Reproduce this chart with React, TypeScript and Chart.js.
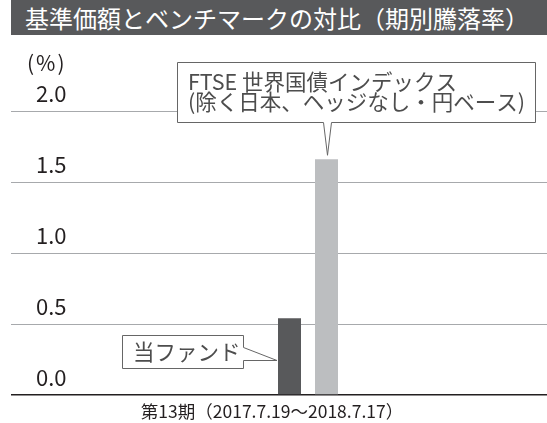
import React, { useEffect, useRef } from 'react';
import { Chart, registerables } from 'chart.js';

Chart.register(...registerables);

const chartTitle = '基準価額とベンチマークの対比（期別騰落率）';
const categories = ['第13期（2017.7.19～2018.7.17）'];
const fundName = '当ファンド';
const benchmarkNameLines = ['FTSE 世界国債インデックス', '(除く日本、ヘッジなし・円ベース)'];
const fundValues = [0.54];
const benchmarkValues = [1.66];
const yUnit = '(%)';
const yMin = 0;
const yMax = 2.0;
const yStep = 0.5;

const FONT = '"Noto Sans CJK JP", "Noto Sans", sans-serif';

const calloutPlugin = {
  id: 'callouts',
  afterDatasetsDraw(chart: any) {
    const ctx = chart.ctx as CanvasRenderingContext2D;
    const fundBar = chart.getDatasetMeta(0).data[0];
    const benchBar = chart.getDatasetMeta(1).data[0];
    ctx.save();
    ctx.lineWidth = 1;
    ctx.strokeStyle = '#666666';

    // unit label
    ctx.font = `21px ${FONT}`;
    ctx.fillStyle = '#231f20';
    ctx.textBaseline = 'middle';
    ctx.textAlign = 'left';
    (ctx as any).letterSpacing = '2px';
    ctx.fillText(yUnit, 27, 63);
    (ctx as any).letterSpacing = '0px';

    // benchmark callout
    if (benchBar) {
      const bx = 177.5, by = 62.5, bw = 358, bh = 60;
      const tx = Math.round(benchBar.x) + 0.5;
      const ty = benchBar.y - 4;
      ctx.beginPath();
      ctx.moveTo(bx, by);
      ctx.lineTo(bx + bw, by);
      ctx.lineTo(bx + bw, by + bh);
      ctx.lineTo(tx + 4, by + bh);
      ctx.lineTo(tx, ty);
      ctx.lineTo(tx - 4, by + bh);
      ctx.lineTo(bx, by + bh);
      ctx.closePath();
      ctx.fillStyle = '#ffffff';
      ctx.fill();
      ctx.stroke();
      ctx.fillStyle = '#4d4d4d';
      ctx.font = `21.5px ${FONT}`;
      ctx.fillText(benchmarkNameLines[0], 188, 82);
      ctx.fillText(benchmarkNameLines[1], 188, 102);
    }

    // fund callout
    if (fundBar) {
      const bx = 122.5, by = 335.5, bw = 121, bh = 33;
      const tx = fundBar.x - fundBar.width / 2 - 1;
      const ty = 360.5;
      ctx.beginPath();
      ctx.moveTo(bx, by);
      ctx.lineTo(bx + bw, by);
      ctx.lineTo(bx + bw, 347.5);
      ctx.lineTo(tx, ty);
      ctx.lineTo(bx + bw, ty);
      ctx.lineTo(bx + bw, by + bh);
      ctx.lineTo(bx, by + bh);
      ctx.closePath();
      ctx.fillStyle = '#ffffff';
      ctx.fill();
      ctx.stroke();
      ctx.fillStyle = '#4d4d4d';
      ctx.font = `21.5px ${FONT}`;
      ctx.fillText(fundName, 133, 352);
    }
    ctx.restore();
  },
};

export default function App() {
  const canvasRef = useRef<HTMLCanvasElement | null>(null);

  useEffect(() => {
    if (!canvasRef.current) return;
    const chart = new Chart(canvasRef.current, {
      type: 'bar',
      data: {
        labels: categories,
        datasets: [
          {
            label: fundName,
            data: fundValues,
            backgroundColor: '#58595b',
            categoryPercentage: 74 / 478,
            barPercentage: 23 / 37,
          },
          {
            label: benchmarkNameLines.join(''),
            data: benchmarkValues,
            backgroundColor: '#bcbec0',
            categoryPercentage: 74 / 478,
            barPercentage: 23 / 37,
          },
        ],
      },
      options: {
        animation: false,
        responsive: false,
        maintainAspectRatio: false,
        layout: { padding: { left: 11, top: 111, right: 0, bottom: 0 } },
        plugins: {
          legend: { display: false },
          tooltip: { enabled: false },
          title: { display: false },
        },
        scales: {
          x: {
            type: 'category',
            grid: { display: false, drawTicks: false },
            border: { display: false },
            ticks: {
              color: '#231f20',
              font: { family: FONT, size: 17.5 },
              padding: 6,
              labelOffset: -36,
              maxRotation: 0,
              autoSkip: false,
            },
            afterFit: (scale: any) => {
              scale.height = 28;
            },
          },
          y: {
            min: yMin,
            max: yMax,
            border: { display: false },
            grid: {
              color: (c: any) => (c.tick && c.tick.value === 0 ? '#231f20' : '#a7a9ac'),
              lineWidth: (c: any) => (c.tick && c.tick.value === 0 ? 1.5 : 1),
              drawTicks: true,
              tickLength: 58,
            },
            ticks: {
              stepSize: yStep,
              mirror: true,
              padding: -33,
              labelOffset: -17.5,
              color: '#231f20',
              font: { family: FONT, size: 22 },
              callback: (v: any) => Number(v).toFixed(1),
            },
            afterFit: (scale: any) => {
              scale.width = 58;
            },
          },
        },
      },
      plugins: [calloutPlugin],
    });
    return () => chart.destroy();
  }, []);

  return (
    <div style={{ position: 'absolute', left: 0, top: 0, width: 547, height: 423, background: '#ffffff' }}>
      <canvas ref={canvasRef} width={547} height={423} style={{ position: 'absolute', left: 0, top: 0, width: 547, height: 423 }} />
      <div
        style={{
          position: 'absolute',
          left: 11,
          top: 0,
          width: 536,
          height: 35,
          background: '#58595b',
          color: '#ffffff',
          fontFamily: FONT,
          fontSize: 24,
          lineHeight: '35px',
          paddingLeft: 14,
          boxSizing: 'border-box',
          whiteSpace: 'nowrap',
          overflow: 'hidden',
        }}
      >
        {chartTitle}
      </div>
    </div>
  );
}
